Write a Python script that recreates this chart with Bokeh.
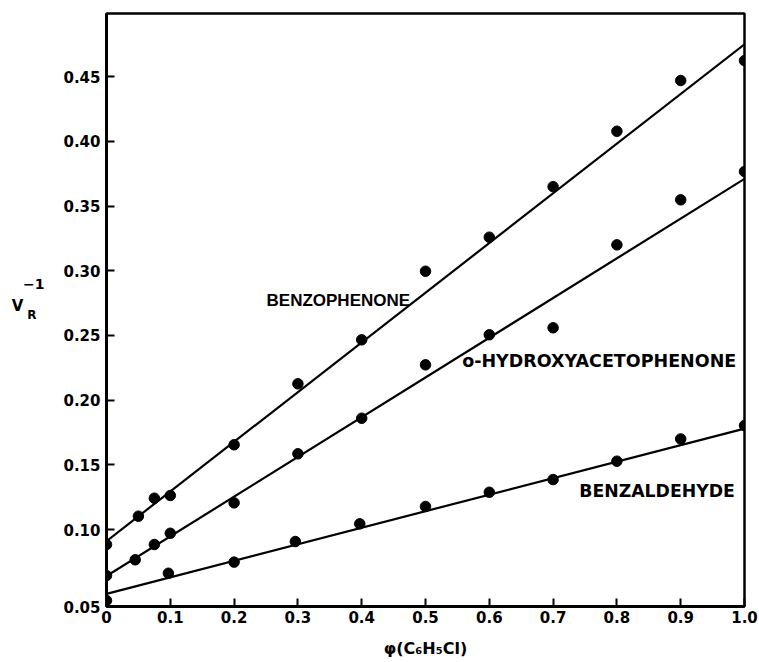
from bokeh.plotting import figure
from bokeh.models import Label, FixedTicker, Range1d
from bokeh.core.properties import value
from bokeh.embed import file_html
from bokeh.resources import INLINE

# ---- data ----
x_benzophenone = [0.0, 0.05, 0.075, 0.1, 0.2, 0.3, 0.4, 0.5, 0.6, 0.7, 0.8, 0.9, 1.0]
y_benzophenone = [0.0884, 0.1103, 0.1242, 0.1263, 0.1655, 0.2126, 0.2466, 0.2996, 0.3259, 0.365, 0.4078, 0.447, 0.4624]

x_hydroxy = [0.0, 0.045, 0.075, 0.1, 0.2, 0.3, 0.4, 0.5, 0.6, 0.7, 0.8, 0.9, 1.0]
y_hydroxy = [0.0644, 0.0766, 0.0884, 0.0971, 0.1206, 0.1585, 0.186, 0.2273, 0.2505, 0.2559, 0.32, 0.3548, 0.3767]

x_benzaldehyde = [0.0, 0.097, 0.2, 0.296, 0.397, 0.5, 0.6, 0.7, 0.8, 0.9, 1.0]
y_benzaldehyde = [0.0451, 0.0662, 0.0748, 0.0907, 0.1044, 0.1178, 0.1288, 0.1386, 0.1528, 0.17, 0.1804]

line_x = [0.0, 1.0]
fit_benzophenone = [0.091, 0.475]
fit_hydroxy = [0.064, 0.371]
fit_benzaldehyde = [0.0503, 0.178]

x_ticks = [0.0, 0.1, 0.2, 0.3, 0.4, 0.5, 0.6, 0.7, 0.8, 0.9, 1.0]
x_tick_labels = ["0", "0.1", "0.2", "0.3", "0.4", "0.5", "0.6", "0.7", "0.8", "0.9", "1.0"]
y_bottom = 0.0405
y_top = 0.4988
y_ticks = [y_bottom, 0.10, 0.15, 0.20, 0.25, 0.30, 0.35, 0.40, 0.45]
y_tick_labels = ["0.05", "0.10", "0.15", "0.20", "0.25", "0.30", "0.35", "0.40", "0.45"]

y_label_parts = ["V", "−1", "R"]
y_label_x = [-0.1395, -0.114, -0.1168]
y_label_y = [0.2731, 0.290, 0.2654]
y_label_sizes = ["15px", "14px", "12px"]

TICK_FONT = "DejaVu Sans"

p = figure(width=759, height=662, output_backend="svg", toolbar_location=None,
           x_range=Range1d(0, 1.0), y_range=Range1d(y_bottom, y_top),
           min_border_left=106, min_border_right=15, min_border_top=13, min_border_bottom=56)
p.xgrid.visible = False
p.ygrid.visible = False
p.outline_line_color = "black"
p.outline_line_width = 2.5
p.background_fill_color = "white"
p.border_fill_color = "white"

for ax in (p.xaxis[0], p.yaxis[0]):
    ax.axis_line_width = 3
    ax.axis_line_color = "black"
    ax.major_tick_in = 8
    ax.major_tick_out = 0
    ax.major_tick_line_width = 2
    ax.minor_tick_line_color = None
    ax.major_label_text_font = TICK_FONT
    ax.major_label_text_font_style = "bold"
    ax.major_label_text_font_size = "15px"
    ax.major_label_text_color = "black"

p.xaxis[0].ticker = FixedTicker(ticks=x_ticks)
p.xaxis[0].major_label_overrides = {t: l for t, l in zip(x_ticks, x_tick_labels)}
p.xaxis[0].major_label_standoff = 4
p.xaxis[0].axis_label = "φ(C₆H₅Cl)"
p.xaxis[0].axis_label_text_font = TICK_FONT
p.xaxis[0].axis_label_text_font_style = "bold"
p.xaxis[0].axis_label_text_font_size = "16px"
p.xaxis[0].axis_label_text_color = "black"
p.xaxis[0].axis_label_standoff = 13

p.yaxis[0].ticker = FixedTicker(ticks=y_ticks)
p.yaxis[0].major_label_overrides = {t: l for t, l in zip(y_ticks, y_tick_labels)}
p.yaxis[0].major_label_standoff = 6

# fitted lines
for fy in (fit_benzophenone, fit_hydroxy, fit_benzaldehyde):
    p.line(line_x, fy, line_color="black", line_width=2.2)

# data points
for xs, ys in ((x_benzophenone, y_benzophenone), (x_hydroxy, y_hydroxy),
               (x_benzaldehyde, y_benzaldehyde)):
    p.scatter(xs, ys, size=10.5, marker="circle", fill_color="black", line_color="black")

# curve labels
p.add_layout(Label(x=0.2508, y=0.277, text="BENZOPHENONE", text_font="Liberation Sans",
                   text_font_style="bold", text_font_size="17px", text_baseline="middle",
                   text_align="left", text_color="black"))
p.add_layout(Label(x=0.5575, y=0.230, text="o-HYDROXYACETOPHENONE", text_font=TICK_FONT,
                   text_font_style="bold", text_font_size="17.5px", text_baseline="middle",
                   text_align="left", text_color="black"))
p.add_layout(Label(x=0.741, y=0.1296, text="BENZALDEHYDE", text_font=TICK_FONT,
                   text_font_style="bold", text_font_size="17.3px", text_baseline="middle",
                   text_align="left", text_color="black"))

# y-axis label V_R^-1, drawn at overlay level so it is not clipped to the frame
for t, xx, yy, fs in zip(y_label_parts, y_label_x, y_label_y, y_label_sizes):
    p.text(x=[xx], y=[yy], text=[t], text_font=value(TICK_FONT), text_font_style="bold",
           text_font_size=fs, text_baseline="middle", text_align="center",
           text_color="black", level="overlay")

open("out.html", "w").write(file_html(p, INLINE))
